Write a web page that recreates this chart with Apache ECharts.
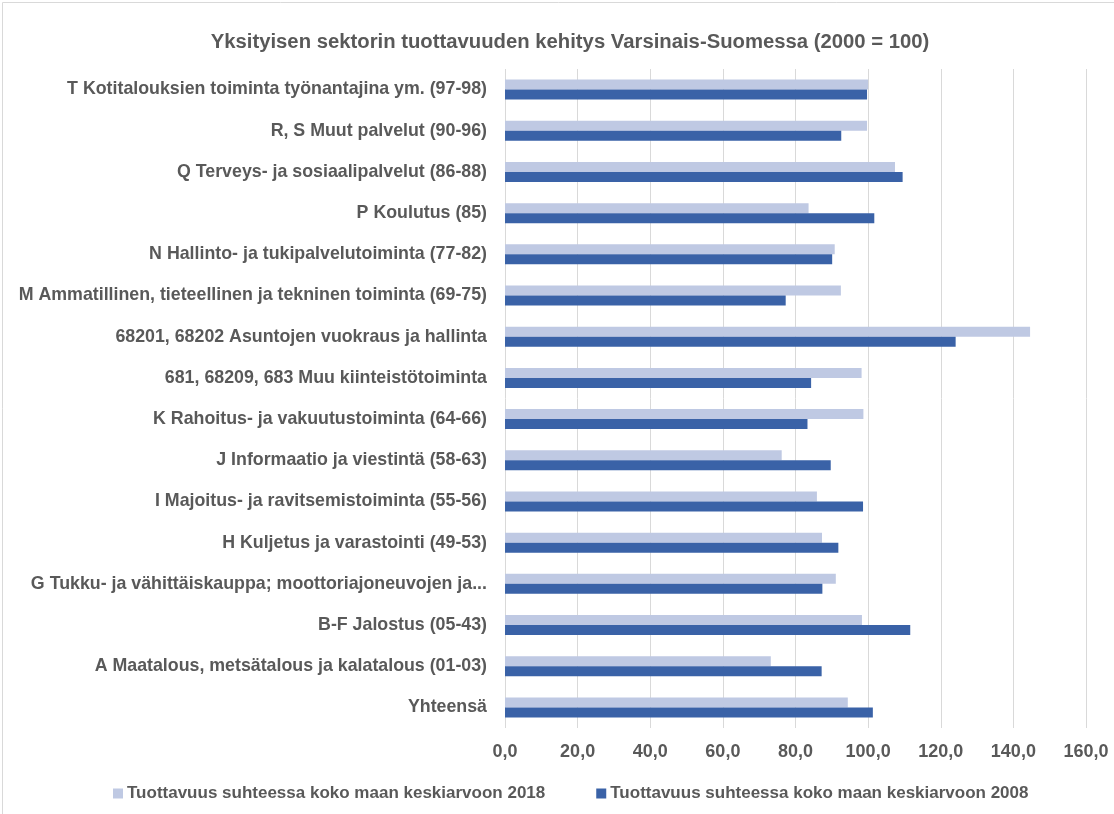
<!DOCTYPE html>
<html>
<head>
<meta charset="utf-8">
<script src="https://cdn.jsdelivr.net/npm/echarts@6/dist/echarts.min.js"></script>
<style>
  html, body { margin: 0; padding: 0; background: #fff; }
  #chart { width: 1114px; height: 814px; }
</style>
</head>
<body>
<div id="chart"></div>
<script>
  // toimialat ylhäältä alas
  const categories = [
    'T Kotitalouksien toiminta työnantajina ym. (97-98)',
    'R, S Muut palvelut (90-96)',
    'Q Terveys- ja sosiaalipalvelut (86-88)',
    'P Koulutus (85)',
    'N Hallinto- ja tukipalvelutoiminta (77-82)',
    'M Ammatillinen, tieteellinen ja tekninen toiminta (69-75)',
    '68201, 68202 Asuntojen vuokraus ja hallinta',
    '681, 68209, 683 Muu kiinteistötoiminta',
    'K Rahoitus- ja vakuutustoiminta (64-66)',
    'J Informaatio ja viestintä (58-63)',
    'I Majoitus- ja ravitsemistoiminta (55-56)',
    'H Kuljetus ja varastointi (49-53)',
    'G Tukku- ja vähittäiskauppa; moottoriajoneuvojen ja...',
    'B-F Jalostus (05-43)',
    'A Maatalous, metsätalous ja kalatalous (01-03)',
    'Yhteensä'
  ];
  const values2018 = [100.0, 99.7, 107.4, 83.6, 90.8, 92.5, 144.6, 98.2, 98.7, 76.2, 85.9, 87.3, 91.1, 98.3, 73.2, 94.4];
  const values2008 = [99.7, 92.6, 109.5, 101.7, 90.1, 77.3, 124.1, 84.3, 83.3, 89.7, 98.6, 91.8, 87.4, 111.6, 87.2, 101.3];
  const xTicks = [0, 20, 40, 60, 80, 100, 120, 140, 160];

  const colors = ['#bfc9e3', '#3a62a7'];
  const textColor = '#595959';
  const font = 'Liberation Sans';

  const chart = echarts.init(document.getElementById('chart'));
  const option = {
    animation: false,
    color: colors,
    title: {
      text: 'Yksityisen sektorin tuottavuuden kehitys Varsinais-Suomessa (2000 = 100)',
      left: 565,
      top: 27,
      textAlign: 'center',
      textStyle: { fontFamily: font, fontSize: 20.3, fontWeight: 'bold', color: textColor }
    },
    legend: {
      left: 108,
      top: 780,
      itemWidth: 10,
      itemHeight: 10,
      itemGap: 51,
      icon: 'rect',
      textStyle: { fontFamily: font, fontSize: 17, fontWeight: 'bold', color: textColor, padding: [0, 0, 0, -1] },
      data: ['Tuottavuus suhteessa koko maan keskiarvoon 2018', 'Tuottavuus suhteessa koko maan keskiarvoon 2008']
    },
    grid: { left: 505, right: 28, top: 69, bottom: 86 },
    xAxis: {
      type: 'value',
      min: xTicks[0],
      max: xTicks[xTicks.length - 1],
      interval: 20,
      axisLine: { show: false },
      axisTick: { show: false },
      splitLine: { lineStyle: { color: '#d9d9d9', width: 1 } },
      axisLabel: {
        margin: 15,
        fontFamily: font, fontSize: 18, fontWeight: 'bold', color: textColor,
        formatter: v => v.toFixed(1).replace('.', ',')
      }
    },
    yAxis: {
      type: 'category',
      inverse: true,
      data: categories,
      axisLine: { show: false },
      axisTick: { show: false },
      axisLabel: {
        margin: 18,
        fontFamily: font, fontSize: 17.8, fontWeight: 'bold', color: textColor
      }
    },
    series: [
      {
        name: 'Tuottavuus suhteessa koko maan keskiarvoon 2018',
        type: 'bar',
        data: values2018,
        barWidth: 10,
        barGap: '0%',
        itemStyle: { color: colors[0] }
      },
      {
        name: 'Tuottavuus suhteessa koko maan keskiarvoon 2008',
        type: 'bar',
        data: values2008,
        barWidth: 10,
        barGap: '0%',
        itemStyle: { color: colors[1] }
      }
    ],
    graphic: [{
      type: 'rect',
      silent: true,
      shape: { x: 2.5, y: 2.5, width: 1130, height: 830 },
      style: { fill: 'none', stroke: '#d9d9d9', lineWidth: 1 }
    }]
  };
  chart.setOption(option);
</script>
</body>
</html>
